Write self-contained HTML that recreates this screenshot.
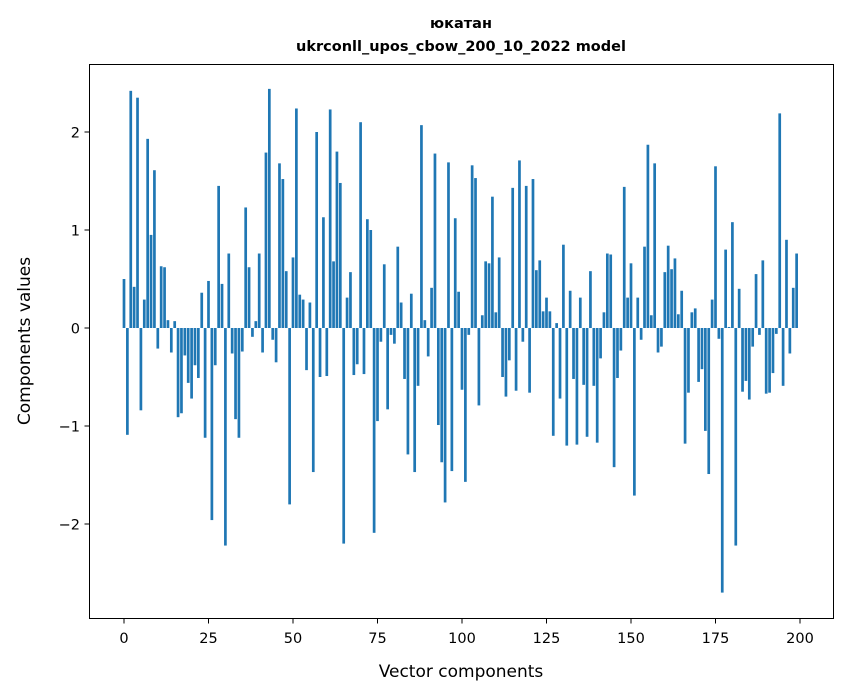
<!DOCTYPE html>
<html><head><meta charset="utf-8"><style>
body{margin:0;background:#fff;}
svg{display:block;font-family:"DejaVu Sans","Liberation Sans",sans-serif;}
</style></head><body>
<svg id="chart" width="847" height="696">
<rect width="847" height="696" fill="#fff"/>
<text x="461" y="28" text-anchor="middle" font-size="14.5" font-weight="bold">юкатан</text>
<text x="461" y="51" text-anchor="middle" font-size="14.5" font-weight="bold">ukrconll_upos_cbow_200_10_2022 model</text>
<g id="bars"></g>
<g id="ticks"></g>
<rect x="89.5" y="64.5" width="744" height="554" fill="none" stroke="#000" stroke-width="1"/>
<text x="461" y="677" text-anchor="middle" font-size="17">Vector components</text>
<text transform="translate(30,341) rotate(-90)" text-anchor="middle" font-size="17">Components values</text>
</svg>
<script>
const values = [0.5,-1.09,2.42,0.42,2.35,-0.84,0.29,1.93,0.95,1.61,-0.21,0.63,0.62,0.08,-0.25,0.07,-0.91,-0.87,-0.28,-0.56,-0.72,-0.38,-0.51,0.36,-1.12,0.48,
-1.96,-0.38,1.45,0.45,-2.22,0.76,-0.26,-0.93,-1.12,-0.24,1.23,0.62,-0.09,0.07,0.76,-0.25,1.79,2.44,-0.12,-0.35,1.68,1.52,0.58,-1.80,0.72,
2.24,0.34,0.29,-0.43,0.26,-1.47,2.0,-0.50,1.13,-0.49,2.23,0.68,1.80,1.48,-2.20,0.31,0.57,-0.48,-0.37,2.10,-0.47,1.11,1.0,-2.09,-0.95,
-0.14,0.65,-0.83,-0.07,-0.16,0.83,0.26,-0.52,-1.29,0.35,-1.47,-0.59,2.07,0.08,-0.29,0.41,1.78,-0.99,-1.37,-1.78,1.69,-1.46,1.12,0.37,-0.63,
-1.57,-0.07,1.66,1.53,-0.79,0.13,0.68,0.66,1.34,0.16,0.72,-0.50,-0.70,-0.33,1.43,-0.64,1.71,-0.14,1.45,-0.66,1.52,0.59,0.69,0.17,0.31,
0.17,-1.10,0.05,-0.72,0.85,-1.20,0.38,-0.52,-1.19,0.31,-0.58,-1.11,0.58,-0.59,-1.17,-0.31,0.16,0.76,0.75,-1.42,-0.51,-0.23,1.44,0.31,0.66,
-1.71,0.31,-0.12,0.83,1.87,0.13,1.68,-0.25,-0.19,0.57,0.84,0.60,0.71,0.14,0.38,-1.18,-0.66,0.16,0.20,-0.55,-0.42,-1.05,-1.49,0.29,1.65,
-0.11,-2.70,0.80,0.01,1.08,-2.22,0.40,-0.65,-0.54,-0.73,-0.19,0.55,-0.07,0.69,-0.67,-0.66,-0.46,-0.06,2.19,-0.59,0.90,-0.26,0.41,0.76];
const xTicks = [0,25,50,75,100,125,150,175,200];
const yTicks = [-2,-1,0,1,2];
const NS = "http://www.w3.org/2000/svg";
function xScale(v){ return 124 + v*3.38; }
function yScale(v){ return 328 - v*98; }
const barsG = document.getElementById('bars');
values.forEach(function(v,i){
  const r = document.createElementNS(NS,'rect');
  const y0 = yScale(0), y1 = yScale(v);
  r.setAttribute('x', xScale(i-0.4));
  r.setAttribute('width', 3.38*0.8);
  r.setAttribute('y', Math.min(y0,y1));
  r.setAttribute('height', Math.abs(y1-y0));
  r.setAttribute('fill', '#1f77b4');
  
  
  barsG.appendChild(r);
});
const tG = document.getElementById('ticks');
xTicks.forEach(function(t){
  const x = xScale(t);
  const l = document.createElementNS(NS,'line');
  l.setAttribute('x1',x); l.setAttribute('x2',x); l.setAttribute('y1',618.5); l.setAttribute('y2',623.5);
  l.setAttribute('stroke','#000');
  
  
  tG.appendChild(l);
  const tx = document.createElementNS(NS,'text');
  tx.setAttribute('x',x); tx.setAttribute('y',643); tx.setAttribute('text-anchor','middle'); tx.setAttribute('font-size','14.5');
  tx.textContent = t;
  
  
  tG.appendChild(tx);
});
yTicks.forEach(function(t){
  const y = yScale(t);
  const l = document.createElementNS(NS,'line');
  l.setAttribute('x1',84.5); l.setAttribute('x2',89.5); l.setAttribute('y1',y); l.setAttribute('y2',y);
  l.setAttribute('stroke','#000');
  
  
  tG.appendChild(l);
  const tx = document.createElementNS(NS,'text');
  tx.setAttribute('x',80); tx.setAttribute('y',y+5.5); tx.setAttribute('text-anchor','end'); tx.setAttribute('font-size','14.5');
  tx.textContent = t < 0 ? '\u2212' + Math.abs(t) : String(t);
  
  
  tG.appendChild(tx);
});
</script>
</body></html>
